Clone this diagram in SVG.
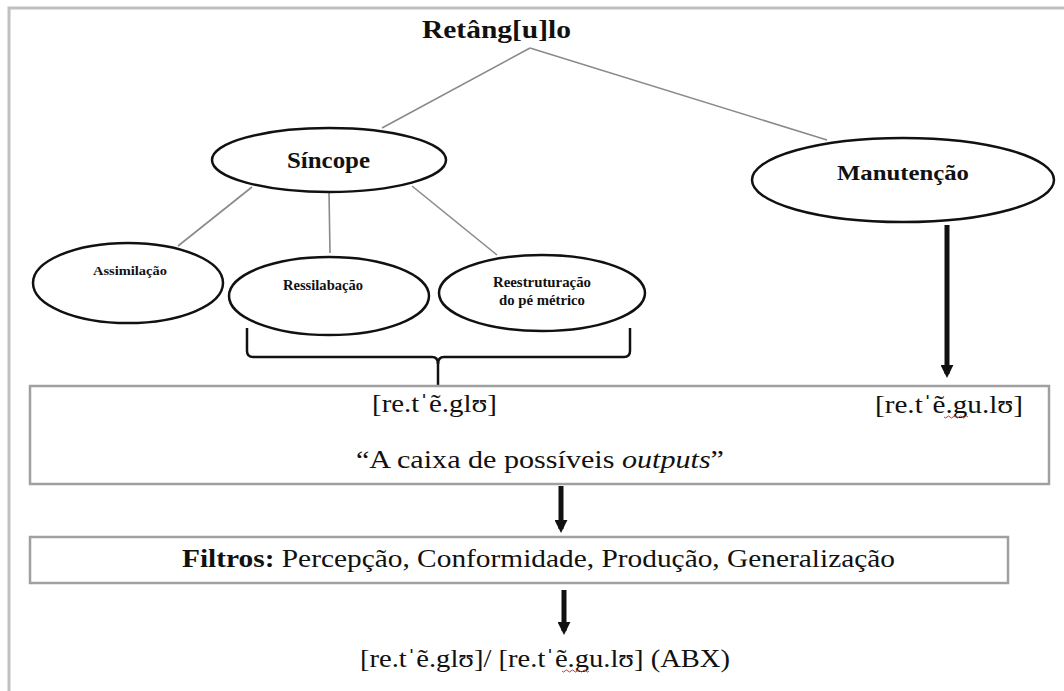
<svg xmlns="http://www.w3.org/2000/svg" width="1064" height="691" viewBox="0 0 1064 691">
<defs>
<style>
.t{font-family:"Liberation Serif","Tinos","Times New Roman","Nimbus Roman",serif;fill:#111}
.b{font-weight:bold}
.ell{fill:#fff;stroke:#111;stroke-width:2.5}
.thin{stroke:#8a8a8a;stroke-width:1.6;fill:none}
.box{fill:#fff;stroke:#a0a0a0;stroke-width:2.5}
.thick{stroke:#111;stroke-width:5;fill:none}
.sq{stroke:#d33;stroke-width:1;fill:none}
</style>
<marker id="ah" viewBox="0 0 10 10" refX="7" refY="5" markerWidth="2.6" markerHeight="2.6" orient="auto" markerUnits="strokeWidth">
<path d="M0,0 L10,5 L0,10 z" fill="#111"/>
</marker>
</defs>
<rect x="0" y="0" width="1064" height="691" fill="#fff"/>
<path d="M9,691 V8 H1064" fill="none" stroke="#c0c0c0" stroke-width="3"/>

<g id="connectors">
<line class="thin" x1="530" y1="48" x2="382" y2="128"/>
<line class="thin" x1="530" y1="48" x2="827" y2="140"/>
<line class="thin" x1="252" y1="187" x2="178" y2="246"/>
<line class="thin" x1="329" y1="192" x2="330" y2="253"/>
<line class="thin" x1="412" y1="186" x2="497" y2="255"/>
<path d="M247,328 V351 Q247,357 253,357 H432 Q438,357 438,364 Q438,357 444,357 H624 Q630,357 630,351 V328" fill="none" stroke="#111" stroke-width="2.5"/>
<line x1="438" y1="362" x2="438" y2="398" stroke="#111" stroke-width="2.5"/>
<line class="thick" x1="947" y1="225" x2="947" y2="374" marker-end="url(#ah)"/>
<line class="thick" x1="561" y1="486" x2="561" y2="529" marker-end="url(#ah)"/>
<line class="thick" x1="564" y1="590" x2="564" y2="631" marker-end="url(#ah)"/>
</g>

<g id="title">
<text class="t b" x="422" y="38" font-size="26" textLength="149" lengthAdjust="spacingAndGlyphs">Retâng[u]lo</text>
</g>

<g id="sincope">
<ellipse class="ell" cx="329" cy="160" rx="117" ry="32"/>
<text class="t b" x="287" y="168" font-size="24" textLength="83" lengthAdjust="spacingAndGlyphs">Síncope</text>
</g>

<g id="manutencao">
<ellipse class="ell" cx="903" cy="180" rx="151" ry="42"/>
<text class="t b" x="837" y="180" font-size="22" textLength="132" lengthAdjust="spacingAndGlyphs">Manutenção</text>
</g>

<g id="assimilacao">
<ellipse class="ell" cx="128" cy="283" rx="95" ry="40"/>
<text class="t b" x="93" y="275" font-size="13" textLength="74" lengthAdjust="spacingAndGlyphs">Assimilação</text>
</g>

<g id="ressilabacao">
<ellipse class="ell" cx="329" cy="296" rx="100" ry="39"/>
<text class="t b" x="283" y="290" font-size="14" textLength="80" lengthAdjust="spacingAndGlyphs">Ressilabação</text>
</g>

<g id="reestruturacao">
<ellipse class="ell" cx="542" cy="293" rx="103" ry="38"/>
<text class="t b" x="493" y="287" font-size="14" textLength="98" lengthAdjust="spacingAndGlyphs">Reestruturação</text>
<text class="t b" x="499" y="305" font-size="14" textLength="86" lengthAdjust="spacingAndGlyphs">do pé métrico</text>
</g>

<g id="outputs-box">
<rect class="box" x="30" y="386" width="1019" height="98"/>
<text class="t" x="372" y="412" font-size="26" textLength="125" lengthAdjust="spacingAndGlyphs">[re.tˈẽ.glʊ]</text>
<text class="t" x="875" y="413" font-size="26" textLength="148" lengthAdjust="spacingAndGlyphs">[re.tˈẽ.gu.lʊ]</text>
<path class="sq" d="M944,417 q1.5,2 3,0 t3,0 t3,0 t3,0 t3,0 t3,0 t3,0 t3,0"/>
<text class="t" x="356" y="468" font-size="26" textLength="368" lengthAdjust="spacingAndGlyphs">“A caixa de possíveis <tspan font-style="italic">outputs</tspan>”</text>
</g>

<g id="filtros-box">
<rect class="box" x="30" y="537" width="978" height="46"/>
<text class="t" x="182" y="567" font-size="26" textLength="713" lengthAdjust="spacingAndGlyphs"><tspan font-weight="bold">Filtros:</tspan> Percepção, Conformidade, Produção, Generalização</text>
</g>

<g id="result">
<text class="t" x="360" y="667" font-size="26" textLength="370" lengthAdjust="spacingAndGlyphs">[re.tˈẽ.glʊ]/ [re.tˈẽ.gu.lʊ] (ABX)</text>
<path class="sq" d="M562,671 q1.5,2 3,0 t3,0 t3,0 t3,0 t3,0 t3,0 t3,0 t3,0 t3,0"/>
</g>
</svg>
